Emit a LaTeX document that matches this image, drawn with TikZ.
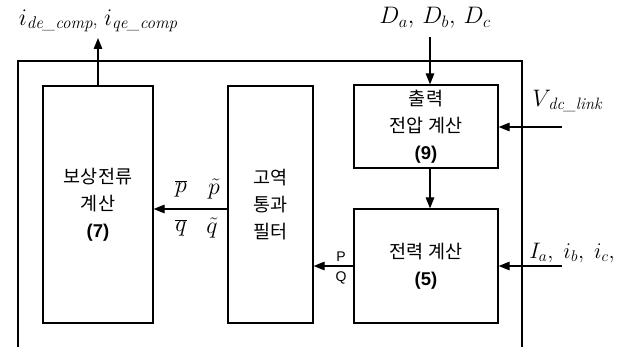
\documentclass[tikz,border=0pt]{standalone}
\usepackage{graphicx}
\usepackage{fontspec}
\newfontfamily\kr{Noto Sans CJK KR}
\newfontfamily\arialf{Liberation Sans}
\usetikzlibrary{arrows.meta,calc}
\newcommand{\subit}[2][17]{\raisebox{-3.5pt}{\fontsize{#1}{18}\selectfont\itshape #2}}
\newcommand{\mylargemath}[1]{\scalebox{1.15}{$#1$}}
\begin{document}
\begin{tikzpicture}[x=1pt,y=-1pt,
  box/.style={draw,line width=1.2pt,align=center,inner sep=0pt,
    font=\kr\fontsize{18.5}{27}\selectfont},
  arr/.style={line width=1.2pt,-{Triangle[length=11pt,width=8.5pt]}},
  lab/.style={inner sep=0pt,font=\fontsize{20.74}{25}\selectfont},
  pq/.style={inner sep=0pt,font=\arialf\fontsize{14}{16}\selectfont}]
\useasboundingbox (0,0) rectangle (636,347);
% outer frame, open at the bottom
\coordinate (fbl) at (18,347);
\coordinate (ftl) at (18,61);
\coordinate (ftr) at (522,61);
\coordinate (fbr) at (522,347);
\draw[line width=1.2pt] (fbl) -- (ftl) -- (ftr) -- (fbr);
% blocks
\node[box,minimum width=110pt,minimum height=237pt] (b7) at (98,204.5)
  {보상전류\\계산\\{\arialf\bfseries (7)}};
\node[box,minimum width=85pt,minimum height=237pt] (hpf) at (270.5,204.5)
  {고역\\통과\\필터};
\node[box,minimum width=144pt,minimum height=83pt] (b9) at (426,126.5)
  {출력\\전압 계산\\{\arialf\bfseries (9)}};
\node[box,minimum width=144pt,minimum height=114pt] (b5) at (426,266)
  {전력 계산\\{\arialf\bfseries (5)}};
% external labels
\node[lab] (ilab) at (98,21) {\mylargemath{i}\subit{de\_comp}, \mylargemath{i}\subit{qe\_comp}};
\node[lab] (dlab) at (435,18) {\mylargemath{D_a,\, D_b,\, D_c}};
\node[lab] (vlab) at (567,101) {\mylargemath{V}\kern-3pt\subit[16.5]{dc\_link}};
\node[lab] (ilab2) at (572,253) {\scalebox{1.08}{$I_a,\; i_b,\; i_c,$}};
\coordinate (iout) at (98,38);
\coordinate (din) at (430,37);
\coordinate (vin) at (562,127);
\coordinate (iin) at (562,266);
% connectors
\draw[arr] (b7.north) -- (iout);
\draw[arr] (din) -- (din |- b9.north);
\draw[arr] (b9.south -| din) -- (b5.north -| din);
\draw[arr] (vin) -- (vin -| b9.east);
\draw[arr] (iin) -- (iin -| b5.east);
\draw[arr] (b5.west) -- (b5.west -| hpf.east);
\draw[arr] ([yshift=-4.5pt]hpf.west) -- ([yshift=-4.5pt]hpf.west -| b7.east);
% signal labels
\node[pq] (plab) at (341,256.5) {P};
\node[pq] (qlab) at (341,277.5) {Q};
\node[lab] (pbar) at (181,189) {\mylargemath{\overline{p}}};
\node[lab] (ptil) at (214,189) {\mylargemath{\tilde{p}}};
\node[lab] (qbar) at (181,228) {\mylargemath{\overline{q}}};
\node[lab] (qtil) at (212,228) {\mylargemath{\tilde{q}}};
\end{tikzpicture}
\end{document}
